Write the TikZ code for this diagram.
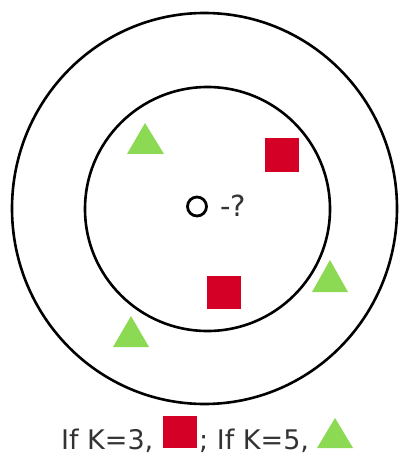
\documentclass[tikz,border=0pt]{standalone}
\usepackage{fontspec}
\setmainfont{DejaVu Sans}
\definecolor{knnred}{RGB}{212,0,38}
\definecolor{knngreen}{RGB}{140,217,83}
\definecolor{txtgray}{RGB}{51,51,51}
\begin{document}
\begin{tikzpicture}[x=1pt,y=-1pt,
  ring/.style={draw=black,line width=2.6pt},
  redsq/.style={fill=knnred},
  greentri/.style={fill=knngreen},
  lbl/.style={inner sep=0pt,text=txtgray,font=\fontsize{27}{30}\selectfont}]
\useasboundingbox (0,0) rectangle (398,454);
% circles
\draw[ring] (204.5,208.5) ellipse [x radius=192.5, y radius=195.5];
\draw[ring] (207.5,209) ellipse [x radius=122.5, y radius=122];
% query point
\node[circle,draw=black,line width=2.8pt,minimum size=19pt,inner sep=0pt,outer sep=0pt] (q) at (197,206.5) {};
\node[lbl,anchor=base west,font=\fontsize{29}{31}\selectfont] (qt) at (220,216.5) {-?};
% squares
\fill[redsq] (265,138) rectangle (299,172);
\fill[redsq] (207,276) rectangle (241,309);
% triangles
\fill[greentri] (145,123) -- (164,154) -- (127,154) -- cycle;
\fill[greentri] (330,260) -- (348,292) -- (312,292) -- cycle;
\fill[greentri] (131,316) -- (149,347) -- (113,347) -- cycle;
% legend
\node[lbl,anchor=base west] (l1) at (61,449) {If K=3,};
\fill[redsq] (163,416) rectangle (197,448);
\node[lbl,anchor=base west] (l2) at (199,449) {; If K=5,};
\fill[greentri] (335,418) -- (353,448) -- (317,448) -- cycle;
\end{tikzpicture}
\end{document}
